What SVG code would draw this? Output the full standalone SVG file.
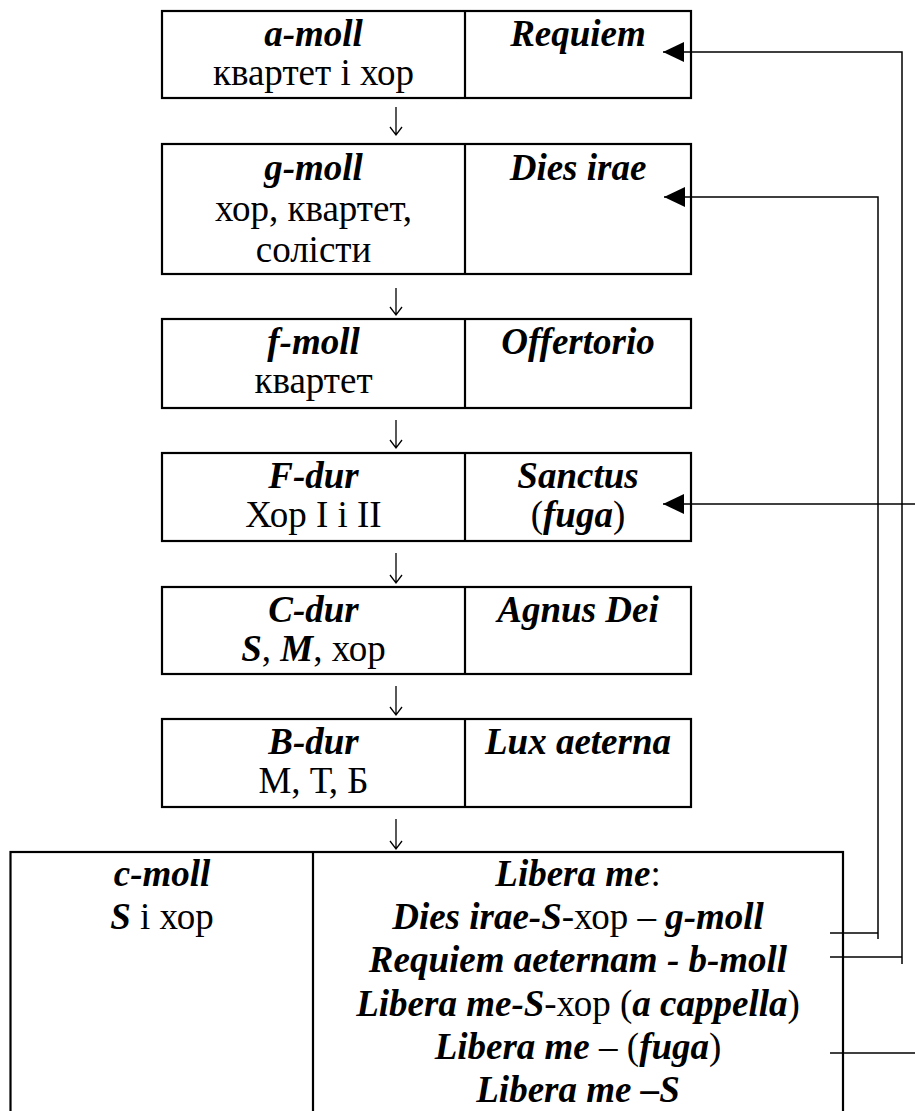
<svg xmlns="http://www.w3.org/2000/svg" width="915" height="1111" viewBox="0 0 915 1111">
<style>
.box{fill:#fff;stroke:#000;stroke-width:2.2}
.div{stroke:#000;stroke-width:2.2}
.t{font-family:'Liberation Serif',serif;font-size:37px;text-anchor:middle;fill:#000}
.bi{font-weight:bold;font-style:italic}
.conn{fill:none;stroke:#000;stroke-width:1.5}
.down{fill:none;stroke:#000;stroke-width:1.3}
</style>
<defs>
<marker id="ah" viewBox="0 0 21 20" refX="21" refY="10" markerWidth="21" markerHeight="20" markerUnits="userSpaceOnUse" orient="auto">
<path d="M0,0 L21,10 L0,20 Z" fill="#000"/>
</marker>
</defs>
<rect width="915" height="1111" fill="#fff"/>

<g id="n1">
<rect class="box" x="162" y="11" width="529" height="87"/>
<line class="div" x1="465" y1="11" x2="465" y2="98"/>
<text class="t bi" x="313.5" y="46">a-moll</text>
<text class="t" x="313.5" y="85">квартет і хор</text>
<text class="t bi" x="578" y="46">Requiem</text>
</g>

<g id="n2">
<rect class="box" x="162" y="144" width="529" height="130"/>
<line class="div" x1="465" y1="144" x2="465" y2="274"/>
<text class="t bi" x="313.5" y="180">g-moll</text>
<text class="t" x="313.5" y="221">хор, квартет,</text>
<text class="t" x="313.5" y="262">солісти</text>
<text class="t bi" x="578" y="180">Dies irae</text>
</g>

<g id="n3">
<rect class="box" x="162" y="319" width="529" height="89"/>
<line class="div" x1="465" y1="319" x2="465" y2="408"/>
<text class="t bi" x="313.5" y="354">f-moll</text>
<text class="t" x="313.5" y="393">квартет</text>
<text class="t bi" x="578" y="354">Offertorio</text>
</g>

<g id="n4">
<rect class="box" x="162" y="453" width="529" height="88"/>
<line class="div" x1="465" y1="453" x2="465" y2="541"/>
<text class="t bi" x="313.5" y="488">F-dur</text>
<text class="t" x="313.5" y="527">Хор I і II</text>
<text class="t bi" x="578" y="488">Sanctus</text>
<text class="t" x="578" y="527">(<tspan class="bi">fuga</tspan>)</text>
</g>

<g id="n5">
<rect class="box" x="162" y="587" width="529" height="87"/>
<line class="div" x1="465" y1="587" x2="465" y2="674"/>
<text class="t bi" x="313.5" y="622">C-dur</text>
<text class="t" x="313.5" y="661"><tspan class="bi">S</tspan>, <tspan class="bi">M</tspan>, хор</text>
<text class="t bi" x="578" y="622">Agnus Dei</text>
</g>

<g id="n6">
<rect class="box" x="162" y="719" width="529" height="88"/>
<line class="div" x1="465" y1="719" x2="465" y2="807"/>
<text class="t bi" x="313.5" y="754">B-dur</text>
<text class="t" x="313.5" y="793">М, Т, Б</text>
<text class="t bi" x="578" y="754">Lux aeterna</text>
</g>

<g id="n7">
<rect class="box" x="10.5" y="852" width="832.5" height="280"/>
<line class="div" x1="313" y1="852" x2="313" y2="1132"/>
<text class="t bi" x="162" y="886">c-moll</text>
<text class="t" x="162" y="929"><tspan class="bi">S</tspan> і хор</text>
<text class="t" x="578" y="886"><tspan class="bi">Libera me</tspan>:</text>
<text class="t" x="578" y="929"><tspan class="bi">Dies irae-S</tspan>-хор – <tspan class="bi">g-moll</tspan></text>
<text class="t bi" x="578" y="972">Requiem aeternam - b-moll</text>
<text class="t" x="578" y="1016"><tspan class="bi">Libera me-S</tspan>-хор (<tspan class="bi">a cappella</tspan>)</text>
<text class="t" x="578" y="1059"><tspan class="bi">Libera me</tspan> – (<tspan class="bi">fuga</tspan>)</text>
<text class="t bi" x="578" y="1102">Libera me –S</text>
</g>

<g id="connectors">
<path class="down" d="M396 107 V135 M390 127 L396 135 L402 127"/>
<path class="down" d="M396 288 V315 M390 307 L396 315 L402 307"/>
<path class="down" d="M396 420 V448 M390 440 L396 448 L402 440"/>
<path class="down" d="M396 553 V583 M390 575 L396 583 L402 575"/>
<path class="down" d="M396 686 V715 M390 707 L396 715 L402 707"/>
<path class="down" d="M396 819 V849 M390 841 L396 849 L402 841"/>
<path class="conn" d="M902 964 V52 H663" marker-end="url(#ah)"/>
<path class="conn" d="M830 957 H902"/>
<path class="conn" d="M878 939 V197 H664" marker-end="url(#ah)"/>
<path class="conn" d="M830 933 H878"/>
<path class="conn" d="M915 504 H663" marker-end="url(#ah)"/>
<path class="conn" d="M830 1053 H915"/>
</g>
</svg>
